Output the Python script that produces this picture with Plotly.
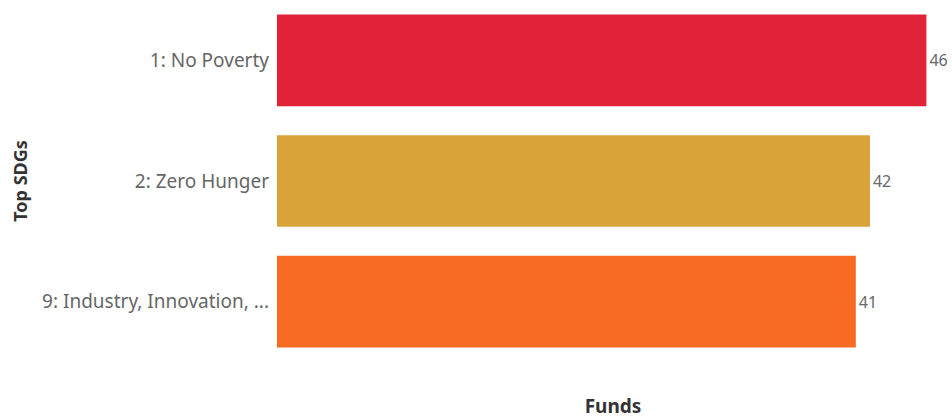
import plotly.graph_objects as go

# Top SDGs by number of funds
sdgs = ["1: No Poverty", "2: Zero Hunger", "9: Industry, Innovation, ..."]
funds = [46, 42, 41]
colors = ["#E02338", "#D9A33A", "#F76A24"]

fig = go.Figure(
    go.Bar(
        x=funds,
        y=sdgs,
        orientation="h",
        marker=dict(color=colors, line=dict(width=0)),
        text=funds,
        textposition="outside",
        cliponaxis=False,
        textfont=dict(family="Noto Sans, Open Sans, sans-serif", size=16, color="#666666"),
        hoverinfo="skip",
    )
)

fig.update_layout(
    width=952,
    height=419,
    margin=dict(l=277, r=3, t=0, b=57),
    paper_bgcolor="white",
    plot_bgcolor="white",
    bargap=0.24,
    showlegend=False,
    font=dict(family="Noto Sans, Open Sans, sans-serif"),
    xaxis=dict(
        range=[0, 47.6],
        showgrid=False,
        zeroline=False,
        showticklabels=False,
        showline=False,
        title=dict(
            text="<b>Funds</b>",
            font=dict(size=19, color="#333333"),
            standoff=43,
        ),
    ),
    yaxis=dict(
        categoryorder="array",
        categoryarray=sdgs,
        autorange="reversed",
        showgrid=False,
        zeroline=False,
        showline=False,
        ticks="",
        ticklabelstandoff=7,
        tickfont=dict(size=19, color="#666666"),
        title=dict(
            text="<b>Top SDGs</b>",
            font=dict(size=18, color="#333333"),
            standoff=9,
        ),
    ),
)

fig.write_html("out.html")
